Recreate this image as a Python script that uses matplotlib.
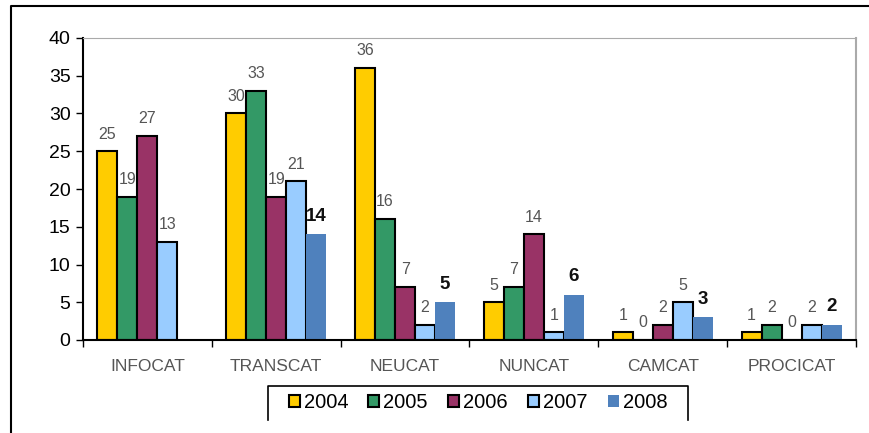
import numpy as np
import matplotlib
matplotlib.use('Agg')
import matplotlib.pyplot as plt
from matplotlib.lines import Line2D
from matplotlib.patches import Patch

plt.rcParams['font.family'] = ['Liberation Sans', 'DejaVu Sans']

categories = ['INFOCAT', 'TRANSCAT', 'NEUCAT', 'NUNCAT', 'CAMCAT', 'PROCICAT']
years = ['2004', '2005', '2006', '2007', '2008']
v2004 = [25, 30, 36, 5, 1, 1]
v2005 = [19, 33, 16, 7, 0, 2]
v2006 = [27, 19, 7, 14, 2, 0]
v2007 = [13, 21, 2, 1, 5, 2]
v2008 = [np.nan, 14, 5, 6, 3, 2]
series = [v2004, v2005, v2006, v2007, v2008]
colors = ['#FFCC00', '#339966', '#993366', '#99CCFF', '#4F81BD']

fig = plt.figure(figsize=(8.7, 4.33), dpi=100)
ax = fig.add_axes([83/870, 1 - 340/433, (856 - 83)/870, (340 - 38)/433])

x = np.arange(len(categories)) + 0.5
w = 20 / 129

for i, (vals, c) in enumerate(zip(series, colors)):
    pos = x + (i - 2) * w
    last = (i == 4)
    for p, v in zip(pos, vals):
        if np.isnan(v):
            continue
        if last:
            ax.bar(p, v, w, color=c, edgecolor='none', zorder=2)
            ax.annotate(str(int(v)), (p, v), xytext=(0, 7), textcoords='offset points',
                        ha='center', va='bottom', fontsize=13.5, fontweight='bold', color='#111111')
        else:
            ax.bar(p, v, w, color=c, edgecolor='black', linewidth=1.5, zorder=2)
            ax.annotate(str(int(v)), (p, v), xytext=(0, 7), textcoords='offset points',
                        ha='center', va='bottom', fontsize=11.5, color='#555555')

ax.set_xlim(0, 6)
ax.set_ylim(0, 40)
ax.set_yticks(range(0, 41, 5))
ax.tick_params(axis='y', labelsize=14, length=5, width=1, direction='out', pad=4)
ax.set_xticks(np.arange(0, 7))
ax.set_xticklabels([])
ax.set_xticks(x, minor=True)
ax.set_xticklabels(categories, minor=True, fontsize=12.5, color='#555555')
ax.tick_params(axis='x', which='major', length=5, width=1, direction='out')
ax.tick_params(axis='x', which='minor', length=0, pad=14)

ax.spines['left'].set_linewidth(1.5)
ax.spines['bottom'].set_linewidth(1.5)
ax.spines['top'].set_color('#aaaaaa')
ax.spines['right'].set_color('#aaaaaa')
ax.spines['right'].set_linewidth(1.5)

# legend
handles = [Patch(facecolor=c, edgecolor='black' if k < 4 else 'none', linewidth=1.5)
           for k, c in enumerate(colors)]
fig.legend(handles, years, loc='center', bbox_to_anchor=(478/870, 1 - 403/433),
           ncol=5, frameon=False, fontsize=14.5, handlelength=0.55, handleheight=0.55,
           handletextpad=0.2, columnspacing=1.0)
lx0, lx1, ly0, ly1 = 268/870, 688/870, 1 - 386/433, 1 - 420/433
fig.add_artist(Line2D([lx0, lx0, lx1, lx1], [ly1, ly0, ly0, ly1], color='black', lw=1.2))

# outer frame
fig.add_artist(Line2D([11/870, 11/870, 1.0], [0.0, 1 - 6/433, 1 - 6/433], color='black', lw=1.5))

fig.savefig('out.png', dpi=100)
